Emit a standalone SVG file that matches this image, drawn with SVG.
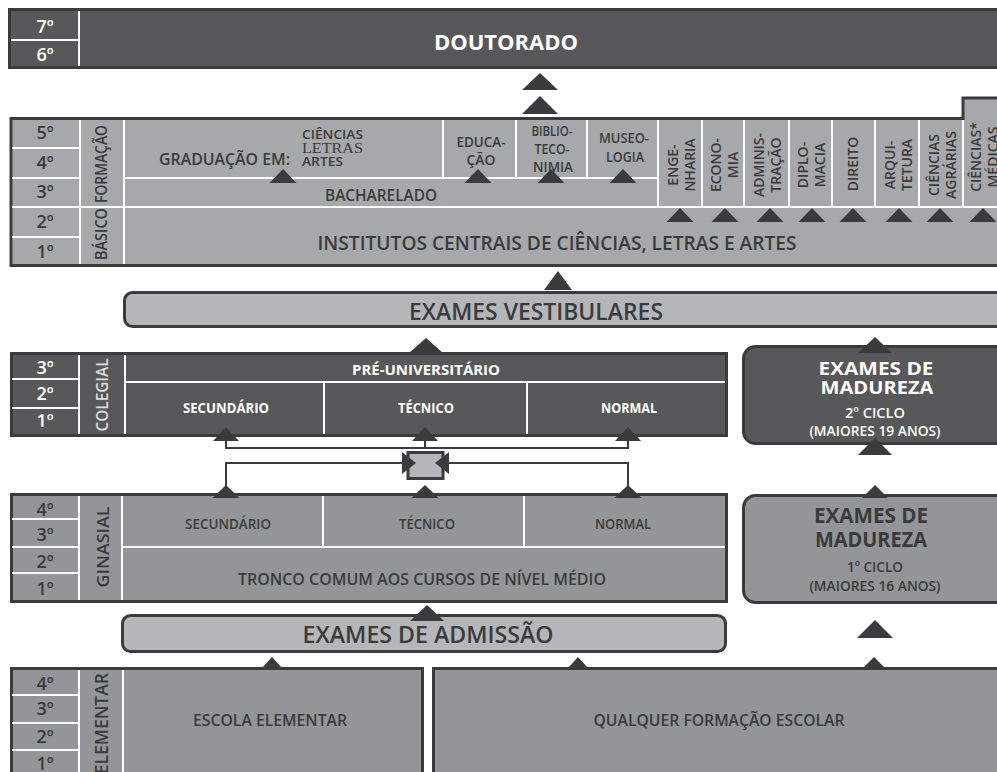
<svg xmlns="http://www.w3.org/2000/svg" width="997" height="772" viewBox="0 0 997 772">
<style>
.t{font-family:"Open Sans","Liberation Sans",sans-serif;font-weight:600}
.b{font-weight:700}
.dk{fill:#3b3b3d}
.wh{fill:#ffffff}
.lg{fill:#dcdcde}
.m{text-anchor:middle}
.bd{fill:#58585b;stroke:#3b3b3d;stroke-width:3}
.bl{fill:#a7a8ab;stroke:#3b3b3d;stroke-width:3}
.bg{fill:#939598;stroke:#3b3b3d;stroke-width:3}
.bar{fill:#b5b6b9;stroke:#3b3b3d;stroke-width:3}
.wl{stroke:#ffffff;stroke-width:2;fill:none}
.tri{fill:#3b3b3d}
.cn{stroke:#3b3b3d;stroke-width:2;fill:none}
.yr{font-size:18px;text-anchor:middle}
.pc{font-size:14px;text-anchor:middle}
</style>

<g id="doutorado">
<rect class="bd" x="9.5" y="9.5" width="1000" height="58"/>
<path class="wl" d="M79,11 V66 M11,40 H79"/>
<text class="t wh yr" x="45" y="33">7º</text>
<text class="t wh yr" x="45" y="61">6º</text>
<text class="t wh b m" x="506" y="50" font-size="22">DOUTORADO</text>
</g>

<g id="superior">
<path class="bl" d="M11,118.5 H963 V98 H1012 V265.5 H11 Z"/>
<path class="wl" d="M80,120 V264 M124,120 V264 M12,148 H80 M12,178 H80 M12,237 H80 M12,207 H1010 M124,178 H658 M443,120 V178 M516,120 V178 M587,120 V178 M658,120 V207 M702,120 V207 M744,120 V207 M789,120 V207 M832,120 V207 M875,120 V207 M919,120 V207 M963,120 V207"/>
<text class="t dk yr" x="45" y="139">5º</text>
<text class="t dk yr" x="45" y="169">4º</text>
<text class="t dk yr" x="45" y="198">3º</text>
<text class="t dk yr" x="45" y="228">2º</text>
<text class="t dk yr" x="45" y="258">1º</text>
<text class="t dk m" transform="translate(107,164) rotate(-90)" font-size="15.5" textLength="78" lengthAdjust="spacingAndGlyphs">FORMAÇÃO</text>
<text class="t dk m" transform="translate(107,234) rotate(-90)" font-size="15.5" textLength="52" lengthAdjust="spacingAndGlyphs">BÁSICO</text>
<text class="t dk" x="159" y="165" font-size="17" textLength="131" lengthAdjust="spacingAndGlyphs">GRADUAÇÃO EM:</text>
<text class="t dk" x="302" y="139" font-size="13" textLength="61" lengthAdjust="spacingAndGlyphs">CIÊNCIAS</text>
<text x="302" y="153" font-size="14" fill="#3b3b3d" font-family="Liberation Serif, serif" textLength="61" lengthAdjust="spacingAndGlyphs">LETRAS</text>
<text class="t dk" x="302" y="165.5" font-size="13" textLength="41" lengthAdjust="spacingAndGlyphs">ARTES</text>
<text class="t dk m" x="481" y="147" font-size="14" textLength="49" lengthAdjust="spacingAndGlyphs">EDUCA-</text>
<text class="t dk m" x="481" y="165" font-size="14" textLength="29" lengthAdjust="spacingAndGlyphs">ÇÃO</text>
<text class="t dk m" x="552" y="136" font-size="14" textLength="41" lengthAdjust="spacingAndGlyphs">BIBLIO-</text>
<text class="t dk m" x="552" y="154" font-size="14" textLength="35" lengthAdjust="spacingAndGlyphs">TECO-</text>
<text class="t dk m" x="553" y="172" font-size="14" textLength="40" lengthAdjust="spacingAndGlyphs">NIMIA</text>
<text class="t dk m" x="624" y="143" font-size="14" textLength="50" lengthAdjust="spacingAndGlyphs">MUSEO-</text>
<text class="t dk m" x="625" y="162" font-size="14" textLength="38" lengthAdjust="spacingAndGlyphs">LOGIA</text>
<text class="t dk m" x="381" y="201" font-size="16" textLength="112" lengthAdjust="spacingAndGlyphs">BACHARELADO</text>
<g class="t dk pc">
<text transform="translate(680,165) rotate(-90)"><tspan x="0" y="-2">ENGE-</tspan><tspan x="0" y="15">NHARIA</tspan></text>
<text transform="translate(723,165) rotate(-90)"><tspan x="0" y="-2">ECONO-</tspan><tspan x="0" y="15">MIA</tspan></text>
<text transform="translate(766,165) rotate(-90)"><tspan x="0" y="-2">ADMINIS-</tspan><tspan x="0" y="15">TRAÇÃO</tspan></text>
<text transform="translate(810,165) rotate(-90)"><tspan x="0" y="-2">DIPLO-</tspan><tspan x="0" y="15">MACIA</tspan></text>
<text transform="translate(853,164) rotate(-90)"><tspan x="0" y="5">DIREITO</tspan></text>
<text transform="translate(897,165) rotate(-90)"><tspan x="0" y="-2">ARQUI-</tspan><tspan x="0" y="15">TETURA</tspan></text>
<text transform="translate(941,165) rotate(-90)"><tspan x="0" y="-2">CIÊNCIAS</tspan><tspan x="0" y="15">AGRÁRIAS</tspan></text>
<text transform="translate(983,157) rotate(-90)"><tspan x="0" y="-2">CIÊNCIAS*</tspan><tspan x="0" y="15">MÉDICAS</tspan></text>
</g>
<text class="t dk m" x="557" y="250" font-size="19" textLength="479" lengthAdjust="spacingAndGlyphs">INSTITUTOS CENTRAIS DE CIÊNCIAS, LETRAS E ARTES</text>
</g>

<g id="vestibulares">
<rect class="bar" x="124.5" y="292.5" width="900" height="34" rx="8"/>
<text class="t dk m" x="536" y="320" font-size="23" textLength="254" lengthAdjust="spacingAndGlyphs">EXAMES VESTIBULARES</text>
</g>

<g id="colegial">
<rect class="bd" x="11.5" y="353.5" width="715" height="82"/>
<path class="wl" d="M79,355 V434 M125,355 V434 M12,379 H79 M12,408 H79 M125,382 H725 M324,382 V434 M527,382 V434"/>
<text class="t wh yr" x="45" y="374">3º</text>
<text class="t wh yr" x="45" y="400">2º</text>
<text class="t wh yr" x="45" y="427">1º</text>
<text class="t lg m" transform="translate(108,395) rotate(-90)" font-size="16" textLength="73" lengthAdjust="spacingAndGlyphs">COLEGIAL</text>
<text class="t wh b m" x="426" y="375" font-size="15" textLength="148" lengthAdjust="spacingAndGlyphs">PRÉ-UNIVERSITÁRIO</text>
<text class="t wh b m" x="226" y="413" font-size="14.5" textLength="86" lengthAdjust="spacingAndGlyphs">SECUNDÁRIO</text>
<text class="t wh b m" x="426" y="413" font-size="14.5" textLength="56" lengthAdjust="spacingAndGlyphs">TÉCNICO</text>
<text class="t wh b m" x="629" y="413" font-size="14.5" textLength="56" lengthAdjust="spacingAndGlyphs">NORMAL</text>
</g>

<g id="madureza2">
<rect class="bd" x="743.5" y="346.5" width="300" height="97" rx="12"/>
<text class="t wh b m" x="876" y="375" font-size="18.5" textLength="115" lengthAdjust="spacingAndGlyphs">EXAMES DE</text>
<text class="t wh b m" x="877" y="394" font-size="18.5" textLength="113" lengthAdjust="spacingAndGlyphs">MADUREZA</text>
<text class="t wh m" x="875" y="418" font-size="15" textLength="60" lengthAdjust="spacingAndGlyphs">2º CICLO</text>
<text class="t wh m" x="875" y="436" font-size="15" textLength="131" lengthAdjust="spacingAndGlyphs">(MAIORES 19 ANOS)</text>
</g>

<g id="ponte">
<rect class="bar" x="408" y="452.5" width="35" height="26"/>
<polygon class="tri" points="402,452 416,463 402,474"/>
<polygon class="tri" points="449,452 435,463 449,474"/>
</g>

<g id="ginasial">
<rect class="bg" x="11.5" y="494.5" width="715" height="107"/>
<path class="wl" d="M79,496 V600 M122,496 V600 M12,519 H79 M12,547 H79 M12,573 H79 M122,547 H725 M323,496 V547 M524,496 V547"/>
<text class="t dk yr" x="45" y="516">4º</text>
<text class="t dk yr" x="45" y="541">3º</text>
<text class="t dk yr" x="45" y="568">2º</text>
<text class="t dk yr" x="45" y="595">1º</text>
<text class="t dk m" transform="translate(109,547) rotate(-90)" font-size="17" textLength="81" lengthAdjust="spacingAndGlyphs">GINASIAL</text>
<text class="t dk m" x="228" y="529" font-size="14.5" textLength="86" lengthAdjust="spacingAndGlyphs">SECUNDÁRIO</text>
<text class="t dk m" x="427" y="529" font-size="14.5" textLength="56" lengthAdjust="spacingAndGlyphs">TÉCNICO</text>
<text class="t dk m" x="623" y="529" font-size="14.5" textLength="56" lengthAdjust="spacingAndGlyphs">NORMAL</text>
<text class="t dk m" x="422" y="585" font-size="17" textLength="368" lengthAdjust="spacingAndGlyphs">TRONCO COMUM AOS CURSOS DE NÍVEL MÉDIO</text>
</g>

<g id="madureza1">
<rect class="bg" x="743.5" y="495.5" width="300" height="107" rx="12"/>
<text class="t dk b m" x="871" y="523" font-size="21" textLength="114" lengthAdjust="spacingAndGlyphs">EXAMES DE</text>
<text class="t dk b m" x="871" y="547" font-size="21" textLength="112" lengthAdjust="spacingAndGlyphs">MADUREZA</text>
<text class="t dk m" x="875" y="572" font-size="15" textLength="56" lengthAdjust="spacingAndGlyphs">1º CICLO</text>
<text class="t dk m" x="875" y="591" font-size="15" textLength="131" lengthAdjust="spacingAndGlyphs">(MAIORES 16 ANOS)</text>
</g>

<g id="admissao">
<rect class="bar" x="122.5" y="615.5" width="603" height="36" rx="8"/>
<text class="t dk m" x="428" y="643" font-size="23" textLength="251" lengthAdjust="spacingAndGlyphs">EXAMES DE ADMISSÃO</text>
</g>

<g id="elementar">
<rect class="bg" x="11.5" y="668.5" width="411" height="120"/>
<path class="wl" d="M79,670 V772 M123,670 V772 M12,695 H79 M12,723 H79 M12,750 H79"/>
<text class="t dk yr" x="45" y="690">4º</text>
<text class="t dk yr" x="45" y="715">3º</text>
<text class="t dk yr" x="45" y="743">2º</text>
<text class="t dk yr" x="45" y="770">1º</text>
<text class="t dk" transform="translate(108,673) rotate(-90)" font-size="17.5" text-anchor="end">ELEMENTAR</text>
<text class="t dk m" x="270" y="726" font-size="17" textLength="154" lengthAdjust="spacingAndGlyphs">ESCOLA ELEMENTAR</text>
</g>

<g id="qualquer">
<rect class="bg" x="433.5" y="668.5" width="600" height="120"/>
<text class="t dk m" x="719" y="726" font-size="17" textLength="251" lengthAdjust="spacingAndGlyphs">QUALQUER FORMAÇÃO ESCOLAR</text>
</g>

<g id="connectors">
<path class="cn" d="M226,440 V448 H628 V440 M425,440 V448"/>
<path class="cn" d="M226,490 V463 H404 M446,463 H628 V490"/>
<g class="tri">
<polygon points="522,90 540,73 558,90"/>
<polygon points="522,114 540,96 558,114"/>
<polygon points="269.5,183 283,169 296.5,183"/>
<polygon points="464.5,183 478,169 491.5,183"/>
<polygon points="537.5,183 551,169 564.5,183"/>
<polygon points="609.5,183 623,169 636.5,183"/>
<polygon points="666.5,222 680,208 693.5,222"/>
<polygon points="711.5,222 725,208 738.5,222"/>
<polygon points="756.5,222 770,208 783.5,222"/>
<polygon points="798.5,222 812,208 825.5,222"/>
<polygon points="839.5,222 853,208 866.5,222"/>
<polygon points="885.5,222 899,208 912.5,222"/>
<polygon points="926.5,222 940,208 953.5,222"/>
<polygon points="969.5,222 983,208 996.5,222"/>
<polygon points="544,290 558,271 572,290"/>
<polygon points="409,353 426,338 443,353"/>
<polygon points="213,441 226,427 239,441"/>
<polygon points="412,441 425,427 438,441"/>
<polygon points="615,441 628,427 641,441"/>
<polygon points="858,353 875,337 892,353"/>
<polygon points="858,455 875,438 892,455"/>
<polygon points="212.5,498 226,485 239.5,498"/>
<polygon points="411.5,498 425,485 438.5,498"/>
<polygon points="614.5,498 628,485 641.5,498"/>
<polygon points="862,498 875,485 888,498"/>
<polygon points="410,621 427,605 444,621"/>
<polygon points="857,638 875,620 893,638"/>
<polygon points="262,668 272,657 282,668"/>
<polygon points="568,668 578,657 588,668"/>
<polygon points="863,668 874,657 885,668"/>
</g>
</g>
</svg>
